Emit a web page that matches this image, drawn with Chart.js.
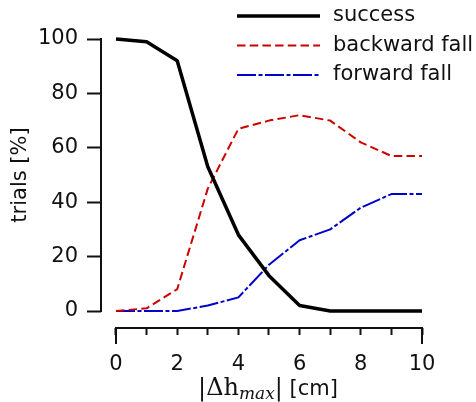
<!DOCTYPE html>
<html>
<head>
<meta charset="utf-8">
<script src="https://cdn.jsdelivr.net/npm/chart.js@4"></script>
<style>
  html, body { margin: 0; padding: 0; background: #fff; }
  #wrap { width: 476px; height: 402px; }
</style>
</head>
<body>
<div id="wrap"><canvas id="trialsChart" width="476" height="402"></canvas></div>
<script>
// values
const dhMax = [0, 1, 2, 3, 4, 5, 6, 7, 8, 9, 10];
const success = [100, 99, 92, 53, 28, 13, 2, 0, 0, 0, 0];
const backwardFall = [0, 1, 8, 45, 67, 70, 72, 70, 62, 57, 57];
const forwardFall = [0, 0, 0, 2, 5, 17, 26, 30, 38, 43, 43];
const yTicks = [0, 20, 40, 60, 80, 100];
const seriesNames = ['success', 'backward fall', 'forward fall'];

const ink = '#111';
const sans = 'DejaVu Sans';
const fontSize = 21;

const toPoints = (vals) => dhMax.map((x, i) => ({ x: x, y: vals[i] }));

// spines drawn only over the data range (detached axes like the original)
const spines = {
  id: 'spines',
  afterDraw(chart) {
    const ctx = chart.ctx;
    const x = chart.scales.x;
    const y = chart.scales.y;
    const left = chart.chartArea.left;
    const bottom = chart.chartArea.bottom;
    ctx.save();
    ctx.strokeStyle = ink;
    ctx.lineWidth = 2;
    ctx.lineCap = 'butt';
    ctx.beginPath();
    ctx.moveTo(left, y.getPixelForValue(0) + 1);
    ctx.lineTo(left, y.getPixelForValue(100) - 1);
    ctx.moveTo(x.getPixelForValue(0) - 1, bottom);
    ctx.lineTo(x.getPixelForValue(10) + 1, bottom);
    // longer end ticks
    [0, 10].forEach((v) => {
      ctx.moveTo(x.getPixelForValue(v), bottom);
      ctx.lineTo(x.getPixelForValue(v), bottom + 16);
    });
    ctx.stroke();

    // axis titles
    ctx.fillStyle = ink;
    ctx.save();
    ctx.translate(21, 175);
    ctx.rotate(-Math.PI / 2);
    ctx.font = fontSize + 'px "' + sans + '"';
    ctx.textAlign = 'center';
    ctx.textBaseline = 'middle';
    ctx.fillText('trials [%]', 0, 0);
    ctx.restore();

    // |Δh_max| [cm]
    const parts = [
      { t: '|\u0394h', f: '24px "DejaVu Serif"', dy: 0 },
      { t: 'max', f: 'italic 17px "DejaVu Serif"', dy: 4 },
      { t: '|', f: '24px "DejaVu Serif"', dy: 0 },
      { t: ' [cm]', f: fontSize + 'px "' + sans + '"', dy: 0 },
    ];
    let total = 0;
    parts.forEach((p) => { ctx.font = p.f; p.w = ctx.measureText(p.t).width; total += p.w; });
    let cx = 268 - total / 2;
    const base = 395;
    ctx.textAlign = 'left';
    ctx.textBaseline = 'alphabetic';
    parts.forEach((p) => {
      ctx.font = p.f;
      ctx.fillText(p.t, cx, base + p.dy);
      cx += p.w;
    });
    ctx.restore();
  },
};

// legend in the top right, overlapping the plot like the original
const lineLegend = {
  id: 'lineLegend',
  afterDraw(chart) {
    const ctx = chart.ctx;
    ctx.save();
    chart.data.datasets.forEach((ds, i) => {
      const yy = 16 + 29.5 * i;
      ctx.strokeStyle = ds.borderColor;
      ctx.lineWidth = ds.borderWidth;
      ctx.setLineDash(ds.borderDash || []);
      ctx.beginPath();
      ctx.moveTo(237, yy);
      ctx.lineTo(320, yy);
      ctx.stroke();
      ctx.setLineDash([]);
      ctx.fillStyle = ink;
      ctx.font = fontSize + 'px "' + sans + '"';
      ctx.textAlign = 'left';
      ctx.textBaseline = 'middle';
      ctx.fillText(ds.label, 333, yy);
    });
    ctx.restore();
  },
};

const config = {
  type: 'line',
  data: {
    datasets: [
      {
        label: seriesNames[0],
        data: toPoints(success),
        borderColor: '#000',
        borderWidth: 3.5,
      },
      {
        label: seriesNames[1],
        data: toPoints(backwardFall),
        borderColor: '#cc0000',
        borderWidth: 2,
        borderDash: [8.5, 4.2],
      },
      {
        label: seriesNames[2],
        data: toPoints(forwardFall),
        borderColor: '#0000cc',
        borderWidth: 2,
        borderDash: [19, 2.5, 4, 2.5],
      },
    ],
  },
  options: {
    responsive: false,
    animation: false,
    devicePixelRatio: 1,
    layout: { padding: { top: 39, right: 54, bottom: 0, left: 0 } },
    elements: {
      point: { radius: 0 },
      line: { tension: 0, borderCapStyle: 'butt', borderJoinStyle: 'round' },
    },
    datasets: { line: { clip: false } },
    plugins: { legend: { display: false }, tooltip: { enabled: false } },
    scales: {
      x: {
        type: 'linear',
        min: -0.49,
        max: 10,
        afterFit: (scale) => { scale.height = 74; },
        afterBuildTicks: (scale) => { scale.ticks = dhMax.map((v) => ({ value: v })); },
        border: { display: false },
        grid: { drawOnChartArea: false, tickLength: 7, tickWidth: 2, tickColor: ink },
        ticks: {
          autoSkip: false,
          maxRotation: 0,
          padding: 17,
          color: ink,
          font: { family: sans, size: fontSize },
          callback: (v) => (v % 2 === 0 ? v : ''),
        },
      },
      y: {
        min: -6.25,
        max: 100,
        afterFit: (scale) => { scale.width = 101; },
        afterBuildTicks: (scale) => { scale.ticks = yTicks.map((v) => ({ value: v })); },
        border: { display: false },
        grid: { drawOnChartArea: false, tickLength: 14, tickWidth: 2, tickColor: ink },
        ticks: {
          padding: 9,
          color: ink,
          font: { family: sans, size: fontSize },
        },
      },
    },
  },
  plugins: [spines, lineLegend],
};

const trialsChart = new Chart(document.getElementById('trialsChart'), config);
</script>
</body>
</html>
